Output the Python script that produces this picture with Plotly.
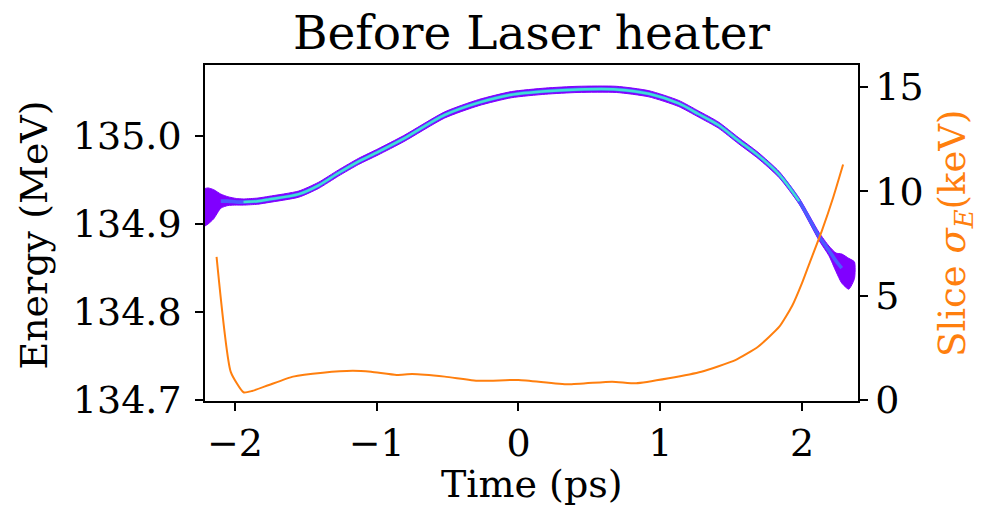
import plotly.graph_objects as go

# Longitudinal phase space: time (ps) vs energy (MeV), band centre and envelope
t_band = [-2.22, -2.19, -2.15, -2.10, -2.05, -1.99, -1.94, -1.84, -1.76, -1.55,
          -1.41, -1.27, -1.13, -0.99, -0.81, -0.52, -0.28, -0.05, 0.19, 0.42,
          0.69, 0.92, 1.13, 1.27, 1.41, 1.55, 1.69, 1.84, 1.98, 2.12,
          2.19, 2.24, 2.28, 2.33, 2.37]
e_centre = [134.918, 134.920, 134.923, 134.926, 134.926, 134.925, 134.925, 134.926, 134.928, 134.934,
            134.944, 134.958, 134.971, 134.982, 134.997, 135.024, 135.038, 135.047, 135.051, 135.053,
            135.053, 135.048, 135.037, 135.025, 135.0125, 134.995, 134.978, 134.956, 134.926, 134.886,
            134.870, 134.858, 134.850, 134.843, 134.846]
e_upper = [134.940, 134.941, 134.939, 134.934, 134.931, 134.929, 134.9285, 134.9295, 134.9315, 134.9375,
           134.9475, 134.9615, 134.9745, 134.9855, 135.0005, 135.0275, 135.0415, 135.0505, 135.0545, 135.0565,
           135.0565, 135.0515, 135.0405, 135.0285, 135.016, 134.9985, 134.9815, 134.9595, 134.9295, 134.8905,
           134.875, 134.867, 134.866, 134.861, 134.857]
e_lower = [134.897, 134.900, 134.906, 134.918, 134.921, 134.9215, 134.9215, 134.9225, 134.9245, 134.9305,
           134.9405, 134.9545, 134.9675, 134.9785, 134.9935, 135.0205, 135.0345, 135.0435, 135.0475, 135.0495,
           135.0495, 135.0445, 135.0335, 135.0215, 135.009, 134.9915, 134.9745, 134.9525, 134.9225, 134.8815,
           134.864, 134.846, 134.833, 134.826, 134.838]

# Slice energy spread (keV)
t_slice = [-2.13, -2.03, -1.94, -1.88, -1.76, -1.59, -1.38, -1.17, -1.04, -0.86,
           -0.75, -0.52, -0.28, 0.00, 0.35, 0.66, 0.83, 1.06, 1.29, 1.53,
           1.69, 1.84, 1.93, 2.00, 2.05, 2.14, 2.22, 2.29]
sigma_e = [6.86, 1.35, 0.37, 0.43, 0.72, 1.12, 1.31, 1.40, 1.35, 1.20,
           1.24, 1.12, 0.92, 0.96, 0.75, 0.88, 0.80, 1.04, 1.35, 1.91,
           2.55, 3.51, 4.50, 5.60, 6.50, 8.10, 9.70, 11.28]

x_ticks = [-2, -1, 0, 1, 2]
e_ticks = [134.7, 134.8, 134.9, 135.0]
s_ticks = [0, 5, 10, 15]

PURPLE = "#8000ff"
BLUE = "#4a5cff"
CYAN = "#40e0d4"
ORANGE = "#ff7f0e"
FONT = "DejaVu Serif"

fig = go.Figure()

# outer (low density) envelope
fig.add_trace(go.Scatter(
    x=t_band + t_band[::-1], y=e_upper + e_lower[::-1],
    fill="toself", fillcolor=PURPLE, mode="lines",
    line=dict(color=PURPLE, width=1, shape="spline", smoothing=0.6),
    hoverinfo="skip", showlegend=False))
# denser core
fig.add_trace(go.Scatter(
    x=t_band[3:33], y=e_centre[3:33], mode="lines",
    line=dict(color=BLUE, width=3.6, shape="spline", smoothing=0.8),
    hoverinfo="skip", showlegend=False))
fig.add_trace(go.Scatter(
    x=t_band[6:29], y=e_centre[6:29], mode="lines",
    line=dict(color=CYAN, width=2.5, shape="spline", smoothing=0.8),
    hoverinfo="skip", showlegend=False))

# slice energy spread on the right axis
fig.add_trace(go.Scatter(
    x=t_slice, y=sigma_e, yaxis="y2", mode="lines",
    line=dict(color=ORANGE, width=2, shape="spline", smoothing=0.5), showlegend=False))

axis_common = dict(
    showgrid=False, zeroline=False, showline=True, linecolor="black", linewidth=1.5,
    ticks="outside", ticklen=8, tickwidth=1.5, tickcolor="black",
    tickfont=dict(family=FONT, size=38, color="black"),
)

fig.update_layout(
    width=981, height=505,
    margin=dict(l=205, r=123, t=65, b=104),
    paper_bgcolor="white", plot_bgcolor="white",
    font=dict(family=FONT, color="black"),
    title=dict(text="Before Laser heater", font=dict(family=FONT, size=47, color="black"),
               x=531.5 / 981, xanchor="center", xref="container",
               y=1 - 33 / 505, yanchor="middle", yref="container"),
    xaxis=dict(range=[-2.2116, 2.3951], tickvals=x_ticks,
               ticktext=["\u22122", "\u22121", "0", "1", "2"], mirror=True, **axis_common),
    yaxis=dict(range=[134.6989, 135.0807], tickvals=e_ticks,
               ticktext=["134.7", "134.8", "134.9", "135.0"], mirror=True,
               ticklabelstandoff=6, **axis_common),
    yaxis2=dict(range=[-0.048, 16.05], tickvals=s_ticks, overlaying="y", side="right",
                **axis_common),
    annotations=[
        dict(text="Time (ps)", xref="paper", yref="paper", x=0.5, y=-0.247,
             xanchor="center", yanchor="middle", showarrow=False,
             font=dict(family=FONT, size=38, color="black")),
        dict(text="Energy (MeV)", xref="paper", yref="paper", x=-0.262, y=0.495,
             xanchor="center", yanchor="middle", textangle=-90, showarrow=False,
             font=dict(family=FONT, size=38, color="black")),
        dict(text="Slice <i>\u03c3</i><sub><i>E</i></sub>(keV)", xref="paper", yref="paper",
             x=1.1485, y=0.5, xanchor="center", yanchor="middle", textangle=-90,
             showarrow=False, font=dict(family=FONT, size=37, color=ORANGE)),
    ],
)

fig.write_html("out.html")
